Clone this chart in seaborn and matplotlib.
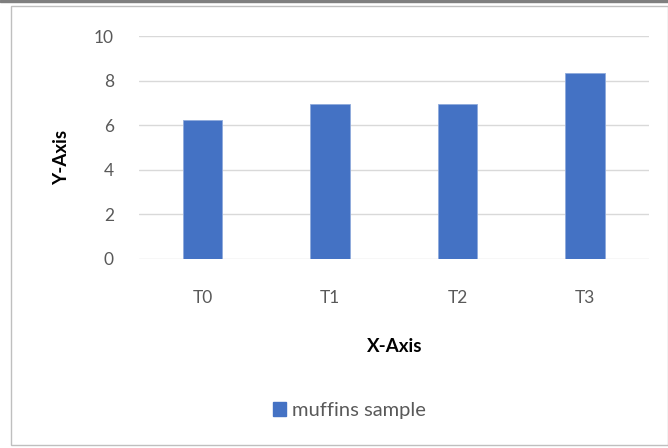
"""Recreate an Excel-style bar chart of muffins sample scores."""
import matplotlib.pyplot as plt
import matplotlib.patches as mpatches
import pandas as pd
import seaborn as sns

categories = ['T0', 'T1', 'T2', 'T3']
values = [6.25, 6.95, 6.95, 8.35]
series_name = 'muffins sample'
y_ticks = [0, 2, 4, 6, 8, 10]


def main():
    """Draw the chart and save it as out.png."""
    sns.set_style('white')
    plt.rcParams['font.family'] = ['Lato', 'DejaVu Sans']

    df = pd.DataFrame({'cat': categories, 'val': values})
    fig = plt.figure(figsize=(6.68, 4.48), dpi=100)
    ax = fig.add_axes([0.208, 0.4219, 0.7635, 0.4969])

    sns.barplot(data=df, x='cat', y='val', color='#4472C4', width=0.31,
                saturation=1, edgecolor='#8FAADC', linewidth=0.6, ax=ax,
                zorder=3)

    ax.set_ylim(0, 10)
    ax.set_xlim(-0.5, 3.5)
    ax.set_yticks(y_ticks)
    ax.yaxis.grid(True, color='#D9D9D9', linewidth=1, zorder=0)
    for s in ax.spines.values():
        s.set_visible(False)
    ax.tick_params(axis='both', length=0, labelsize=12.5,
                   labelcolor='#595959')
    ax.tick_params(axis='y', pad=18)
    ax.tick_params(axis='x', pad=22)

    ax.set_xlabel('X-Axis', fontsize=13.5, fontweight='bold',
                  color='black', va='center', ha='center')
    ax.set_ylabel('Y-Axis', fontsize=13.5, fontweight='bold',
                  color='black', va='center', ha='center')
    ax.xaxis.set_label_coords(0.502, -0.391)
    ax.yaxis.set_label_coords(-0.151, 0.458)

    handle = mpatches.Patch(color='#4472C4', label=series_name)
    fig.legend(handles=[handle], loc='center', bbox_to_anchor=(0.523, 0.084),
               frameon=False, fontsize=14.5, handlelength=0.65,
               handleheight=0.65, handletextpad=0.3, labelcolor='#595959')

    # outer chart frame
    fig.patches.append(mpatches.Rectangle(
        (0.016, 0.006), 0.984, 0.98, transform=fig.transFigure,
        fill=False, edgecolor='#BFBFBF', linewidth=1))
    fig.patches.append(mpatches.Rectangle(
        (0, 0.995), 1, 0.005, transform=fig.transFigure,
        color='#7F7F7F'))

    fig.savefig('out.png', dpi=100)


if __name__ == '__main__':
    main()
